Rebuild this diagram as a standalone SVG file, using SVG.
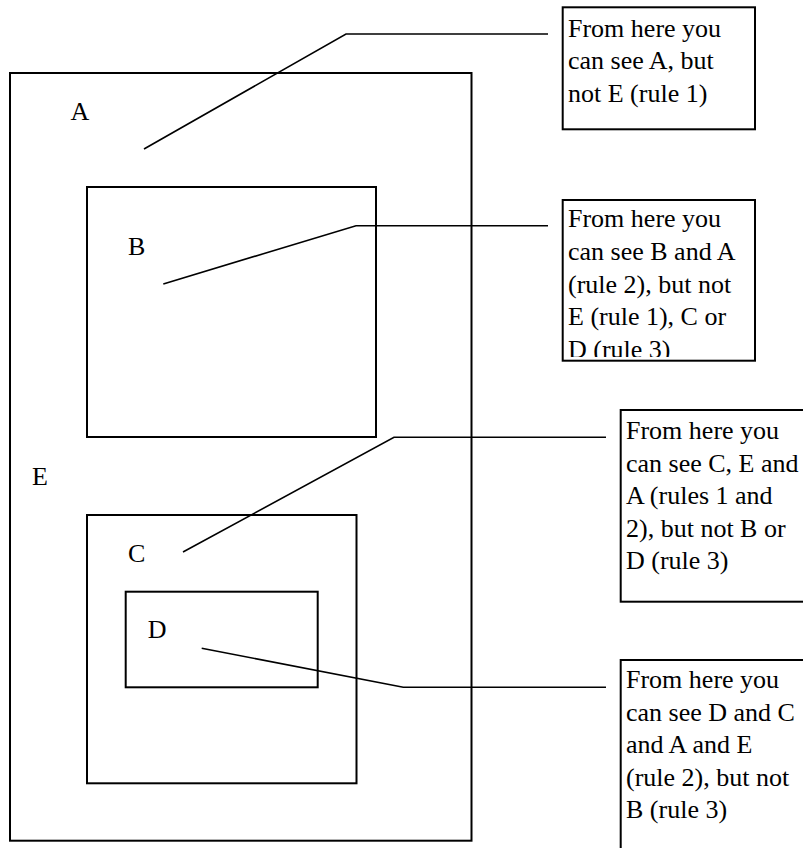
<svg xmlns="http://www.w3.org/2000/svg" width="803" height="848" viewBox="0 0 803 848">
<style>
.box{fill:none;stroke:#000;stroke-width:2}
.note{fill:#fff;stroke:#000;stroke-width:2}
.conn{fill:none;stroke:#000;stroke-width:1.6}
text{font-family:"Liberation Serif","Times New Roman",serif;font-size:26px;fill:#000}
</style>
<defs>
<clipPath id="clip2"><rect x="563" y="200" width="192" height="157"/></clipPath>
</defs>
<rect width="803" height="848" fill="#fff"/>
<g id="region-E">
<rect class="box" x="10" y="73" width="461.5" height="767.7"/>
<text x="70.5" y="120">A</text>
<text x="32" y="484.6">E</text>
</g>
<g id="region-B">
<rect class="box" x="87" y="187" width="289" height="250"/>
<text x="128" y="254.6">B</text>
</g>
<g id="region-C">
<rect class="box" x="87" y="515" width="269.5" height="268.3"/>
<text x="128" y="561.7">C</text>
</g>
<g id="region-D">
<rect class="box" x="125.7" y="591.7" width="192" height="95.6"/>
<text x="147.7" y="638">D</text>
</g>
<g id="connectors">
<polyline class="conn" points="144,149 346,34 548,34"/>
<polyline class="conn" points="163.3,284 356,225.7 548,225.7"/>
<polyline class="conn" points="183,552 394,437.3 606,437.3"/>
<polyline class="conn" points="201.7,648.3 403.3,687.3 606,687.3"/>
</g>
<g id="note1">
<rect class="note" x="562.7" y="7.3" width="192.3" height="122"/>
<text x="568" y="36.7">From here you</text>
<text x="568" y="69.2">can see A, but</text>
<text x="568" y="101.7">not E (rule 1)</text>
</g>
<g id="note2">
<rect class="note" x="562.7" y="200" width="192.3" height="160.7"/>
<g clip-path="url(#clip2)">
<text x="568" y="227.3">From here you</text>
<text x="568" y="260">can see B and A</text>
<text x="568" y="292.7">(rule 2), but not</text>
<text x="568" y="325.4">E (rule 1), C or</text>
<text x="568" y="358">D (rule 3)</text>
</g>
</g>
<g id="note3">
<rect class="note" x="620.7" y="410" width="190" height="191.7"/>
<text x="626" y="439">From here you</text>
<text x="626" y="471.5">can see C, E and</text>
<text x="626" y="504">A (rules 1 and</text>
<text x="626" y="536.5">2), but not B or</text>
<text x="626" y="569">D (rule 3)</text>
</g>
<g id="note4">
<rect class="note" x="620.7" y="660" width="190" height="200"/>
<text x="626" y="688">From here you</text>
<text x="626" y="720.5">can see D and C</text>
<text x="626" y="753">and A and E</text>
<text x="626" y="785.5">(rule 2), but not</text>
<text x="626" y="818">B (rule 3)</text>
</g>
</svg>
